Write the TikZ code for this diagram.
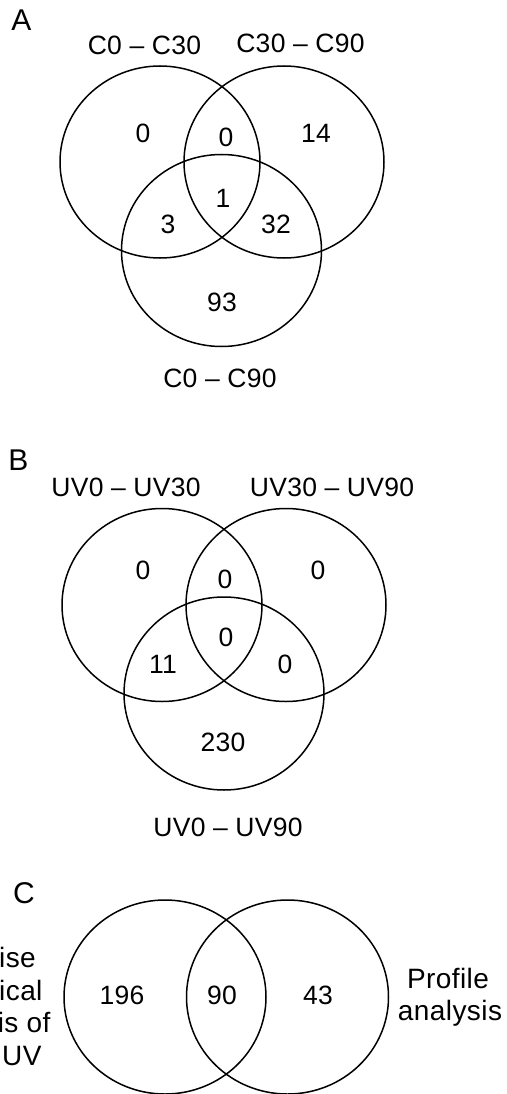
\documentclass[tikz,border=0pt]{standalone}
\usepackage{fontspec}
\setmainfont[LetterSpace=1]{Liberation Sans}
\newfontfamily\sidefont[LetterSpace=1.5]{Liberation Sans}
\begin{document}
\begin{tikzpicture}[x=1pt,y=-1pt,
    set/.style={line width=1.5pt},
    num/.style={font=\fontsize{26.5}{30}\selectfont, inner sep=0pt},
    side/.style={font=\sidefont\fontsize{28}{32}\selectfont, inner sep=0pt},
    panel/.style={font=\fontsize{30}{34}\selectfont, inner sep=0pt}]
    \useasboundingbox (0,0) rectangle (506,1094);
    % A
    \node[panel] (pa) at (21.5,20) {A};
    \node[num] (a1) at (144.5,45) {C0 – C30};
    \node[num] (a2) at (300.5,43) {C30 – C90};
    \node[num] (a3) at (220,378) {C0 – C90};
    \draw[set] (160,162) ellipse [x radius=100pt, y radius=96pt];
    \draw[set] (284,162) ellipse [x radius=100pt, y radius=96pt];
    \draw[set] (221.5,250.5) ellipse [x radius=100pt, y radius=96pt];
    \node[num] (a100) at (143,133) {0};
    \node[num] (a110) at (226,137) {0};
    \node[num] (a010) at (316,133) {14};
    \node[num] (a111) at (223,198) {1};
    \node[num] (a101) at (168,224) {3};
    \node[num] (a011) at (276,224) {32};
    \node[num] (a001) at (222,302) {93};
    % B
    \node[panel] (pb) at (18.5,460) {B};
    \node[num] (b1) at (126,487) {UV0 – UV30};
    \node[num] (b2) at (332,487) {UV30 – UV90};
    \node[num] (b3) at (228,827) {UV0 – UV90};
    \draw[set] (162,605) ellipse [x radius=100pt, y radius=96.5pt];
    \draw[set] (286,605) ellipse [x radius=100pt, y radius=96.5pt];
    \draw[set] (224,693.5) ellipse [x radius=100pt, y radius=96.5pt];
    \node[num] (b100) at (143,570) {0};
    \node[num] (b110) at (225,579) {0};
    \node[num] (b010) at (318,570) {0};
    \node[num] (b111) at (226,637) {0};
    \node[num] (b101) at (163,664) {11};
    \node[num] (b011) at (285,664) {0};
    \node[num] (b001) at (223,742) {230};
    % C
    \node[panel] (pc) at (24,893) {C};
    \draw[set] (165,997) ellipse [x radius=101pt, y radius=97pt];
    \draw[set] (287.5,997) ellipse [x radius=101pt, y radius=97pt];
    \node[num] (c10) at (122,995) {196};
    \node[num] (c11) at (222,995) {90};
    \node[num] (c01) at (318,995) {43};
    \node[side, anchor=base east] (lt1) at (36,967) {ise};
    \node[side, anchor=base east] (lt2) at (42.7,1000) {ical};
    \node[side, anchor=base east] (lt3) at (50.7,1032) {is of};
    \node[side, anchor=base east] (lt4) at (41.7,1065) {UV};
    \node[side, anchor=base] (rt1) at (448,988) {Profile};
    \node[side, anchor=base] (rt2) at (450,1020) {analysis};
\end{tikzpicture}
\end{document}
